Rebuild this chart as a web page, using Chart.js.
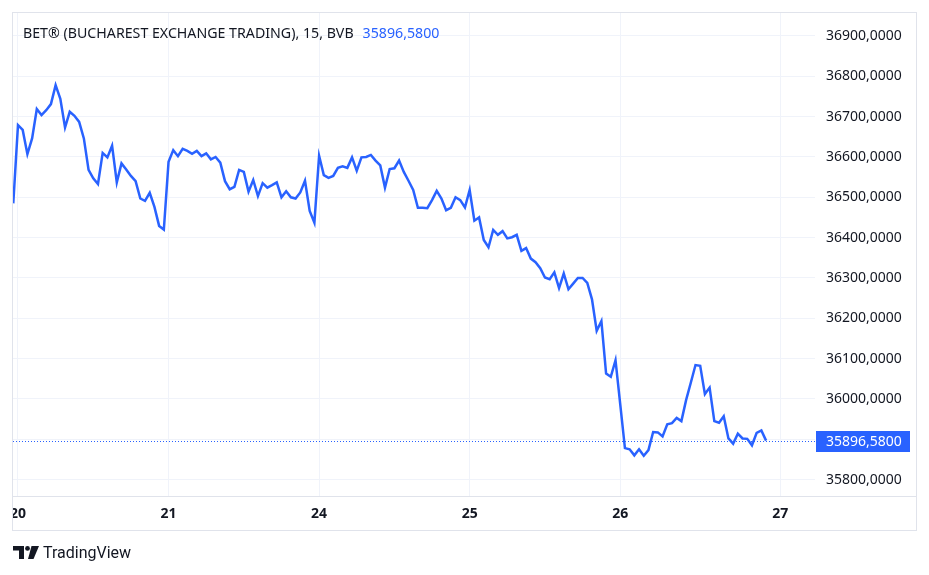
<!DOCTYPE html>
<html>
<head>
<meta charset="utf-8">
<script src="https://cdn.jsdelivr.net/npm/chart.js@4.4.1/dist/chart.umd.min.js"></script>
<style>
  body { margin: 0; background: #fff; font-family: "Noto Sans", Roboto, sans-serif; }
  #wrap { position: relative; width: 929px; height: 575px; }
  #title { position: absolute; left: 23px; top: 23px; font-size: 14.2px; line-height: 20px; color: #131722; white-space: nowrap; }
  #title .val { color: #2962ff; margin-left: 9px; }
  #logo { position: absolute; left: 13px; top: 542px; height: 20px; display: flex; align-items: center; color: #131722; font-size: 16px; font-family: Roboto, sans-serif; }
  #logo svg { margin-right: 4px; }
</style>
</head>
<body>
<div id="wrap">
  <canvas id="chartBet" width="929" height="575"></canvas>
  <div id="title">BET® (BUCHAREST EXCHANGE TRADING), 15, BVB<span class="val">35896,5800</span></div>
  <div id="logo">
    <svg width="26" height="13" viewBox="0 0 26 13">
      <path d="M0 0H11V13H6V4.5H0Z" fill="#131722"/>
      <circle cx="14.5" cy="2.4" r="2.4" fill="#131722"/>
      <path d="M18.5 0H26L20.5 13H15Z" fill="#131722"/>
    </svg>
    <span>TradingView</span>
  </div>
</div>
<script>
/* BET index, 15 min bars */
const dayLabels = ['20', '21', '24', '25', '26', '27'];
const dayStartBar = [1, 33, 65, 97, 129, 163];
const priceTicks = [35800, 35900, 36000, 36100, 36200, 36300, 36400, 36500, 36600, 36700, 36800, 36900];
const closes = [
  36485, 36679, 36667, 36607, 36646, 36719, 36704, 36716, 36731, 36778,
  36744, 36673, 36712, 36702, 36687, 36646, 36568, 36547, 36533, 36610,
  36599, 36628, 36537, 36584, 36569, 36553, 36540, 36497, 36491, 36511,
  36476, 36429, 36420, 36588, 36617, 36602, 36620, 36615, 36608, 36615,
  36602, 36609, 36594, 36600, 36586, 36540, 36520, 36526, 36568, 36563,
  36514, 36543, 36503, 36535, 36524, 36530, 36537, 36500, 36515, 36500,
  36497, 36512, 36541, 36466, 36437, 36603, 36555, 36548, 36553, 36573,
  36577, 36573, 36599, 36566, 36599, 36600, 36605, 36591, 36579, 36524,
  36570, 36572, 36591, 36563, 36541, 36518, 36474, 36474, 36473, 36493,
  36516, 36497, 36468, 36474, 36500, 36493, 36475, 36518, 36442, 36450,
  36394, 36376, 36419, 36407, 36416, 36398, 36401, 36407, 36367, 36374,
  36348, 36339, 36324, 36301, 36297, 36314, 36275, 36311, 36272, 36286,
  36300, 36300, 36288, 36247, 36169, 36193, 36063, 36055, 36096, 35987,
  35878, 35875, 35860, 35875, 35859, 35873, 35918, 35917, 35907, 35937,
  35940, 35953, 35945, 35997, 36040, 36084, 36082, 36012, 36028, 35945,
  35941, 35957, 35902, 35889, 35914, 35902, 35901, 35885, 35916, 35922,
  35896.58
];
const lastPrice = closes[closes.length - 1];

const fmt = v => v.toFixed(4).replace('.', ',');
const lineBlue = '#2962ff';
const axisFont = 'Noto Sans';

// frame, time axis line, last price line and label
const decor = {
  id: 'decor',
  afterDraw(chart) {
    const ctx = chart.ctx;
    const a = chart.chartArea;
    const y = chart.scales.y.getPixelForValue(lastPrice);
    ctx.save();
    // hide the part of the first time label that sits outside the frame
    ctx.fillStyle = '#fff';
    ctx.fillRect(0, a.bottom, 12, 40);
    ctx.strokeStyle = '#e0e3eb';
    ctx.lineWidth = 1;
    ctx.strokeRect(12.5, 12.5, 904, 518);
    ctx.beginPath();
    ctx.moveTo(12, 496.5);
    ctx.lineTo(916, 496.5);
    ctx.stroke();
    // dotted last price line
    ctx.strokeStyle = lineBlue;
    ctx.setLineDash([1, 2]);
    ctx.beginPath();
    ctx.moveTo(a.left, Math.round(y) + 0.5);
    ctx.lineTo(a.right, Math.round(y) + 0.5);
    ctx.stroke();
    ctx.setLineDash([]);
    ctx.fillStyle = lineBlue;
    ctx.fillRect(816, Math.round(y) - 10, 94, 21);
    ctx.fillStyle = '#fff';
    ctx.font = '14px "' + axisFont + '"';
    ctx.textBaseline = 'middle';
    ctx.fillText(fmt(lastPrice), 826, Math.round(y) + 1);
    ctx.restore();
  }
};

const noPad = s => { s.paddingTop = 0; s.paddingBottom = 0; s.paddingLeft = 0; s.paddingRight = 0; };

const chartBet = new Chart(document.getElementById('chartBet'), {
  type: 'line',
  data: {
    datasets: [{
      data: closes.map((v, i) => ({ x: i, y: v })),
      borderColor: lineBlue,
      borderWidth: 2.5,
      pointRadius: 0,
      tension: 0,
      fill: false
    }]
  },
  options: {
    responsive: false,
    animation: false,
    layout: { padding: { left: 13, top: 13, right: 13, bottom: 45 } },
    plugins: { legend: { display: false }, tooltip: { enabled: false } },
    scales: {
      x: {
        type: 'linear',
        min: -0.06,
        max: 170.4,
        afterBuildTicks: s => { s.ticks = dayStartBar.map(v => ({ value: v })); },
        afterFit: s => { s.height = 33; noPad(s); },
        ticks: {
          autoSkip: false,
          maxRotation: 0,
          padding: 9,
          color: '#131722',
          font: { family: axisFont, size: 14, weight: 'bold' },
          callback: v => dayLabels[dayStartBar.indexOf(v)]
        },
        grid: { color: '#f0f3fa', drawTicks: false },
        border: { display: false }
      },
      y: {
        position: 'right',
        min: 35756.8,
        max: 36957,
        afterBuildTicks: s => { s.ticks = priceTicks.map(v => ({ value: v })); },
        afterFit: s => { s.width = 101; noPad(s); },
        ticks: {
          padding: 11,
          color: '#131722',
          font: { family: axisFont, size: 14 },
          callback: v => fmt(v)
        },
        grid: { color: '#f0f3fa', drawTicks: false },
        border: { display: false }
      }
    }
  },
  plugins: [decor]
});
</script>
</body>
</html>
